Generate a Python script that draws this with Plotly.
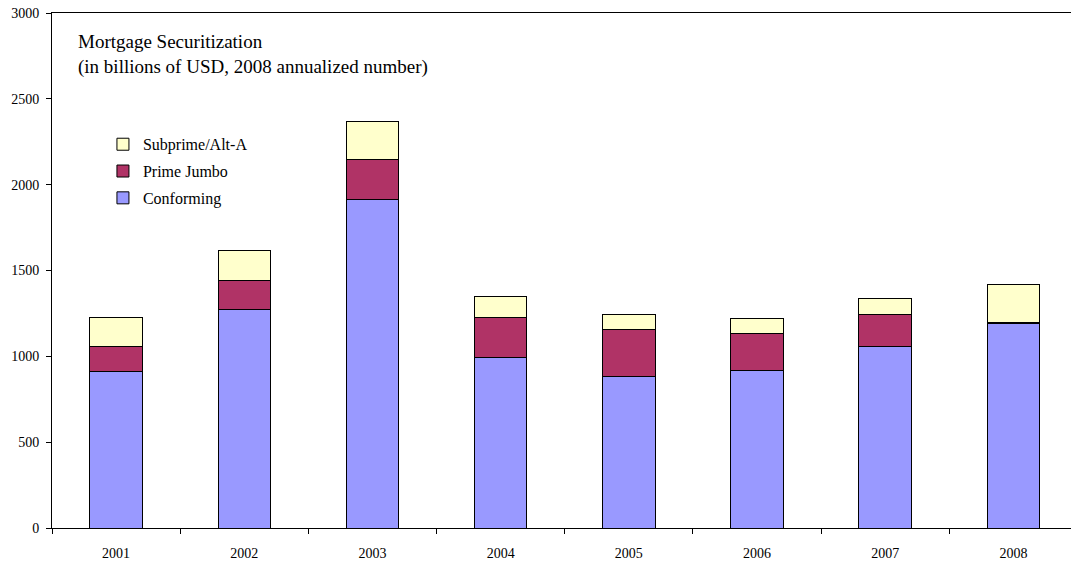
import plotly.graph_objects as go

years = ["2001", "2002", "2003", "2004", "2005", "2006", "2007", "2008"]
conforming = [909, 1270, 1911, 992, 881, 918, 1058, 1190]
prime_jumbo = [147, 169, 235, 235, 278, 214, 183, 8]
subprime_alta = [171, 179, 221, 120, 86, 87, 95, 219]

FONT = "Liberation Serif"

fig = go.Figure()
series = [
    ("Conforming", conforming, "#9999FF", 3),
    ("Prime Jumbo", prime_jumbo, "#B03366", 2),
    ("Subprime/Alt-A", subprime_alta, "#FFFFCC", 1),
]
for name, vals, col, rank in series:
    fig.add_trace(go.Bar(
        x=years, y=vals, name=name, legendgroup=name, legendrank=rank,
        marker=dict(color=col, line=dict(color="black", width=1)),
        width=0.41,
    ))

fig.update_layout(
    barmode="stack",
    width=1071, height=563,
    margin=dict(l=52, r=0, t=13, b=35),
    paper_bgcolor="white", plot_bgcolor="white",
    font=dict(family=FONT, size=14, color="black"),
    showlegend=True,
    legend=dict(
        x=0.05, y=0.778, xanchor="left", yanchor="top",
        traceorder="grouped", tracegroupgap=3,
        font=dict(family=FONT, size=16, color="black"),
        bgcolor="rgba(0,0,0,0)",
    ),
    xaxis=dict(
        type="category", range=[-0.5, 7.449],
        showline=True, linecolor="black", linewidth=1, mirror=True,
        ticks="outside", tickson="boundaries", ticklen=5, tickcolor="black",
        showgrid=False, zeroline=False, ticklabelstandoff=12,
        tickfont=dict(family=FONT, size=14),
    ),
    yaxis=dict(
        range=[0, 3000], tickvals=[0, 500, 1000, 1500, 2000, 2500, 3000],
        showline=True, linecolor="black", linewidth=1,
        ticks="outside", ticklen=5, tickcolor="black",
        showgrid=False, zeroline=False, ticklabelstandoff=4,
        tickfont=dict(family=FONT, size=14),
    ),
    annotations=[dict(
        xref="paper", yref="paper", x=(76 - 52) / 1019, y=(528 - 29) / 515,
        xanchor="left", yanchor="top", align="left", showarrow=False,
        text="Mortgage Securitization<br>(in billions of USD, 2008 annualized number)",
        font=dict(family=FONT, size=19, color="black"),
    )],
)

fig.write_html("out.html")
